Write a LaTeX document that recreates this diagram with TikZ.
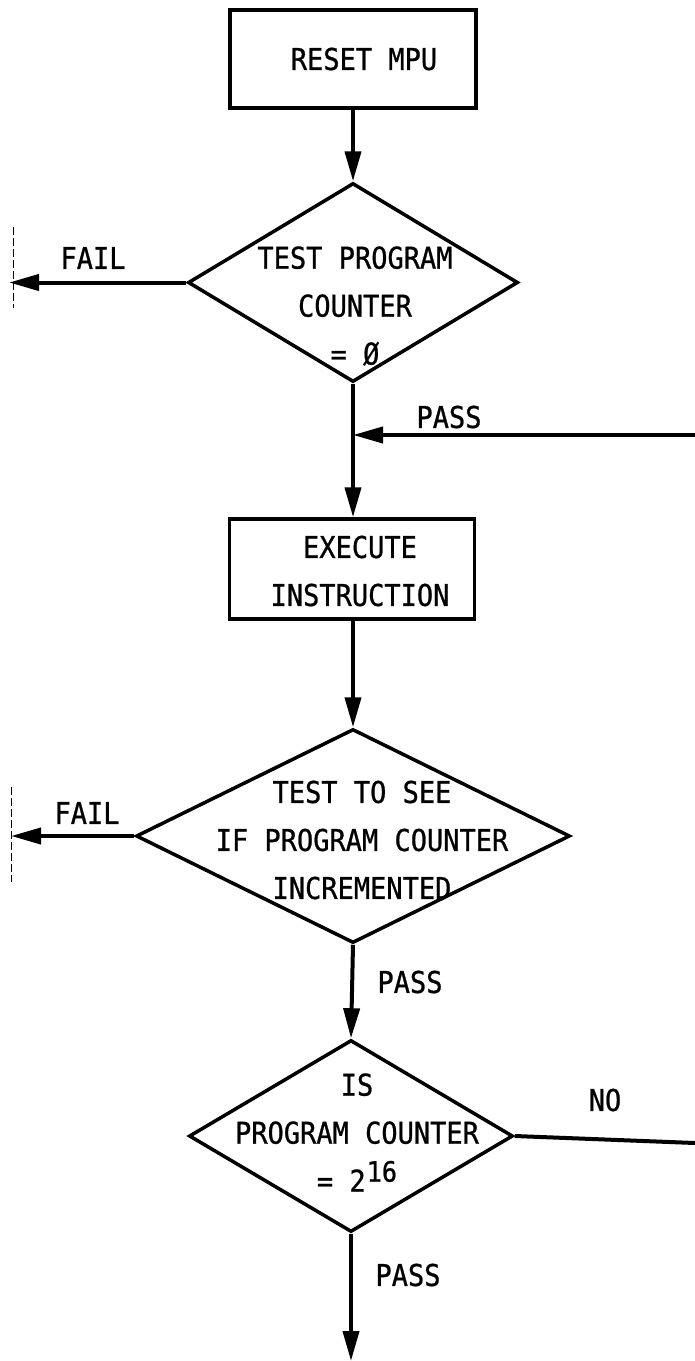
\documentclass[tikz,border=0pt]{standalone}
\usepackage{fontspec}
\newfontfamily\lettering[FakeStretch=0.9,FakeBold=0.8]{DejaVu Sans Mono}
\usetikzlibrary{arrows.meta,shapes.geometric}
\begin{document}
\begin{tikzpicture}[x=1pt,y=-1pt,
  every node/.style={font=\lettering\fontsize{30}{48}\selectfont},
  outline/.style={draw, line width=3.5pt},
  procbox/.style={outline, rectangle, inner sep=0pt},
  decision/.style={outline, diamond, inner sep=0pt},
  txt/.style={align=center, inner sep=0pt},
  flow/.style={line width=4pt, -{Triangle[length=30pt,width=16pt]}},
  plain/.style={line width=4pt},
  edgemark/.style={line width=1pt, dash pattern=on 8pt off 3pt}]

  % page frame
  \fill[white] (0,0) rectangle (695,1361);
  \useasboundingbox (0,0) rectangle (695,1361);

  % boxes and decisions
  \node[procbox, minimum width=246pt, minimum height=98pt] (reset) at (353,59) {};
  \node[txt] (resettext) at ([xshift=11pt]reset.center) {RESET MPU};

  \node[decision, minimum width=330pt, minimum height=199pt] (pczero) at (353,282.5) {};
  \node[txt] (pczerotext) at ([xshift=2pt,yshift=-23.5pt]pczero.center) {TEST PROGRAM\\COUNTER\\= Ø};

  \node[procbox, minimum width=245pt, minimum height=100pt] (exec) at (352,569) {};
  \node[txt] (exectext) at ([xshift=8pt,yshift=-2pt]exec.center) {EXECUTE\\INSTRUCTION};

  \node[decision, minimum width=434pt, minimum height=214pt] (pcinc) at (353,836) {};
  \node[txt] (pcinctext) at ([xshift=9pt,yshift=-4pt]pcinc.center) {TEST TO SEE\\IF PROGRAM COUNTER\\INCREMENTED};

  \node[decision, minimum width=324pt, minimum height=192pt] (pcmax) at (351,1136) {};
  \node[txt] (pcmaxtext) at ([xshift=6pt,yshift=3.5pt]pcmax.center) {IS\\PROGRAM COUNTER\\= 2\kern1pt\raisebox{10pt}{\fontsize{28}{28}\selectfont 16}};

  % free ends of the connectors
  \coordinate (leftend1) at (9,0);
  \coordinate (leftend2) at (11,0);
  \coordinate (loopin) at (695,435);
  \coordinate (merge) at (pczero.south |- loopin);
  \coordinate (loopout) at (695,1143);
  \coordinate (bottomedge) at (0,1361);
  \coordinate (tick1top) at (13,227);
  \coordinate (tick1bot) at (13,308);
  \coordinate (tick2top) at (11,787);
  \coordinate (tick2bot) at (11,882);

  % connectors
  \draw[flow] (reset.south) -- (pczero.north);
  \draw[flow] (pczero.west) -- (pczero.west -| leftend1);
  \draw[plain] (pczero.south) -- (merge);
  \draw[flow] (merge) -- (merge |- exec.north);
  \draw[flow] (loopin) -- (merge);
  \draw[flow] (exec.south -| pcinc.north) -- (pcinc.north);
  \draw[flow] (pcinc.west) -- (pcinc.west -| leftend2);
  \draw[flow] (pcinc.south) -- (pcmax.north);
  \draw[plain] (pcmax.east) -- (loopout);
  \draw[flow] (pcmax.south) -- (pcmax.south |- bottomedge);

  % off-page marks
  \draw[edgemark] (tick1top) -- (tick1bot);
  \draw[edgemark] (tick2top) -- (tick2bot);

  % connector labels
  \node (fail1) at (93,258) {FAIL};
  \node (pass1) at (449,417) {PASS};
  \node (fail2) at (87,813) {FAIL};
  \node (pass2) at (410,982) {PASS};
  \node (no) at (605,1100) {NO};
  \node (pass3) at (408,1275) {PASS};
\end{tikzpicture}
\end{document}
